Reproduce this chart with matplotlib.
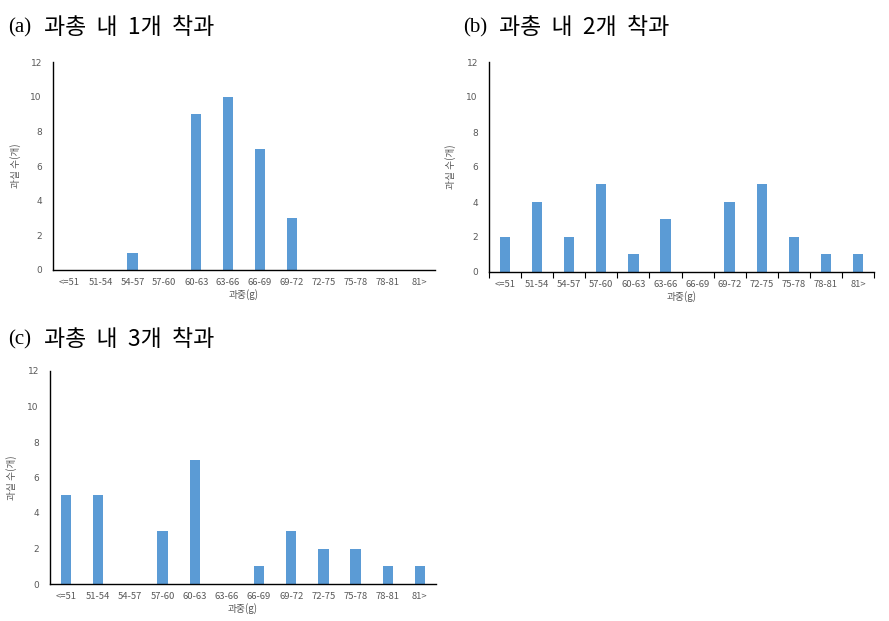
import numpy as np
import matplotlib
matplotlib.use("Agg")
import matplotlib.pyplot as plt

# ==========================================
# DATA
# ==========================================
categories = ["<=51", "51-54", "54-57", "57-60", "60-63", "63-66",
              "66-69", "69-72", "72-75", "75-78", "78-81", "81>"]
counts_a = [0, 0, 1, 0, 9, 10, 7, 3, 0, 0, 0, 0]
counts_b = [2, 4, 2, 5, 1, 3, 0, 4, 5, 2, 1, 1]
counts_c = [5, 5, 0, 3, 7, 0, 1, 3, 2, 2, 1, 1]
panel_tags = ["(a)", "(b)", "(c)"]
titles = ["과총  내  1개  착과", "과총  내  2개  착과", "과총  내  3개  착과"]
yticks = [0, 2, 4, 6, 8, 10, 12]
# ==========================================

BAR_COLOR = "#5B9BD5"
GRAY = "#595959"
KR = ["Noto Sans CJK KR", "DejaVu Sans"]
SERIF = ["Liberation Serif", "Noto Sans CJK KR"]

W, H = 889, 621
fig = plt.figure(figsize=(W / 100, H / 100), dpi=100)


def px_axes(left, top, right, bottom):
    return fig.add_axes([left / W, 1 - bottom / H, (right - left) / W, (bottom - top) / H])


def draw_panel(ax, counts, tag, title, title_xy, boundary_ticks):
    x = np.arange(len(categories))
    ax.bar(x, counts, width=0.32, color=BAR_COLOR)
    ax.set_xlim(-0.5, len(categories) - 0.5)
    ax.set_ylim(0, 12)
    ax.set_yticks(yticks)
    ax.set_yticklabels([str(v) for v in yticks], fontsize=6.5, color=GRAY)
    ax.tick_params(axis="y", length=0, pad=8)
    ax.set_xticks(x)
    ax.set_xticklabels(categories, fontsize=6.8, color=GRAY, family=KR)
    if boundary_ticks:
        ax.set_xticks(np.arange(len(categories) + 1) - 0.5, minor=True)
        ax.tick_params(axis="x", which="major", length=0, pad=6)
        ax.tick_params(axis="x", which="minor", length=4, color="black", width=0.8)
    else:
        ax.tick_params(axis="x", length=0, pad=6)
    for s in ["top", "right"]:
        ax.spines[s].set_visible(False)
    ax.spines["left"].set_linewidth(1.0)
    ax.spines["bottom"].set_linewidth(1.0)
    ax.set_xlabel("과중(g)", fontsize=7, color=GRAY, family=KR, labelpad=1)
    ax.set_ylabel("과실 수(개)", fontsize=7, color=GRAY, family=KR)
    ax.yaxis.set_label_coords(-0.085, 0.5)
    tx, ty = title_xy
    fig.text(tx / W, 1 - ty / H, tag, fontsize=15, family=SERIF, va="center", ha="left")
    fig.text((tx + 36) / W, 1 - (ty - 1) / H, title, fontsize=16.5, family=KR,
             va="center", ha="left")


ax_a = px_axes(53, 62, 435, 270)
draw_panel(ax_a, counts_a, panel_tags[0], titles[0], (8, 28), False)

ax_b = px_axes(489, 62, 874, 272)
draw_panel(ax_b, counts_b, panel_tags[1], titles[1], (463, 28), True)

ax_c = px_axes(50, 371, 436, 584)
draw_panel(ax_c, counts_c, panel_tags[2], titles[2], (8, 340), False)

fig.savefig("out.png", dpi=100)
